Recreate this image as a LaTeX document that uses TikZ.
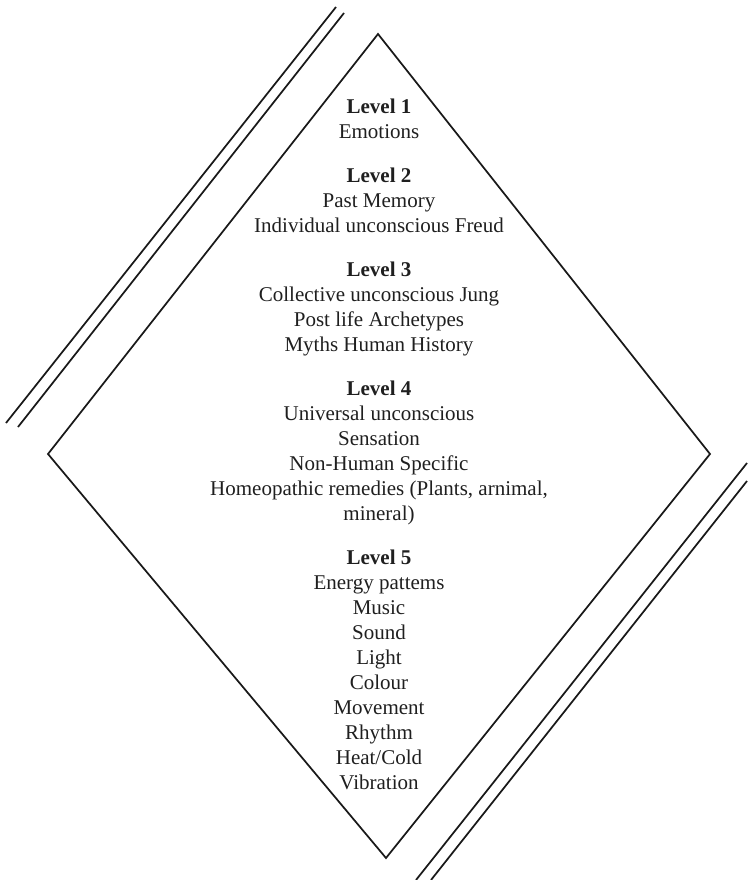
\documentclass[tikz,border=0pt]{standalone}
\usepackage{fontspec}
\setmainfont{Liberation Serif}
\usetikzlibrary{positioning}
\tikzset{
framestroke/.style={line width=1.3pt, color=black!90}, % lines of the diamond and the bars
leveltext/.style={align=center, anchor=north, inner sep=0pt, text=black!88,
  font=\fontsize{15.75}{18.75}\selectfont}, % one block of text per level
}

\begin{document}
\begin{tikzpicture}[x=0.75pt,y=0.75pt,yscale=-1,xscale=1]
\useasboundingbox (0,0) rectangle (747,880);
%Diamond
\coordinate (dtop) at (378,34);
\coordinate (dleft) at (48,454);
\coordinate (dbottom) at (386,858);
\coordinate (dright) at (710,454);
\draw [framestroke, line join=miter] (dtop) -- (dright) -- (dbottom) -- (dleft) -- cycle;
%Double Lines upper left
\coordinate (ulA) at (336,7);
\coordinate (ulB) at (6,423);
\coordinate (ulC) at (344,13);
\coordinate (ulD) at (18,427);
\draw [framestroke] (ulA) -- (ulB);
\draw [framestroke] (ulC) -- (ulD);
%Double Lines lower right
\coordinate (lrA) at (747,463);
\coordinate (lrB) at (416,880);
\coordinate (lrC) at (747,481);
\coordinate (lrD) at (431,880);
\draw [framestroke] (lrA) -- (lrB);
\draw [framestroke] (lrC) -- (lrD);
%Levels
\node [leveltext] (lvl1) at (379,98.7) {\textbf{Level 1}\\Emotions};
\node [leveltext] (lvl2) at (379,167.7) {\textbf{Level 2}\\Past Memory\\Individual unconscious Freud};
\node [leveltext] (lvl3) at (379,261.7) {\textbf{Level 3}\\Collective unconscious Jung\\Post life Archetypes\\Myths Human History};
\node [leveltext] (lvl4) at (379,380.7) {\textbf{Level 4}\\Universal unconscious\\Sensation\\Non-Human Specific\\Homeopathic remedies (Plants, arnimal,\\mineral)};
\node [leveltext] (lvl5) at (379,549.7) {\textbf{Level 5}\\Energy pattems\\Music\\Sound\\Light\\Colour\\Movement\\Rhythm\\Heat/Cold\\Vibration};
\end{tikzpicture}
\end{document}
